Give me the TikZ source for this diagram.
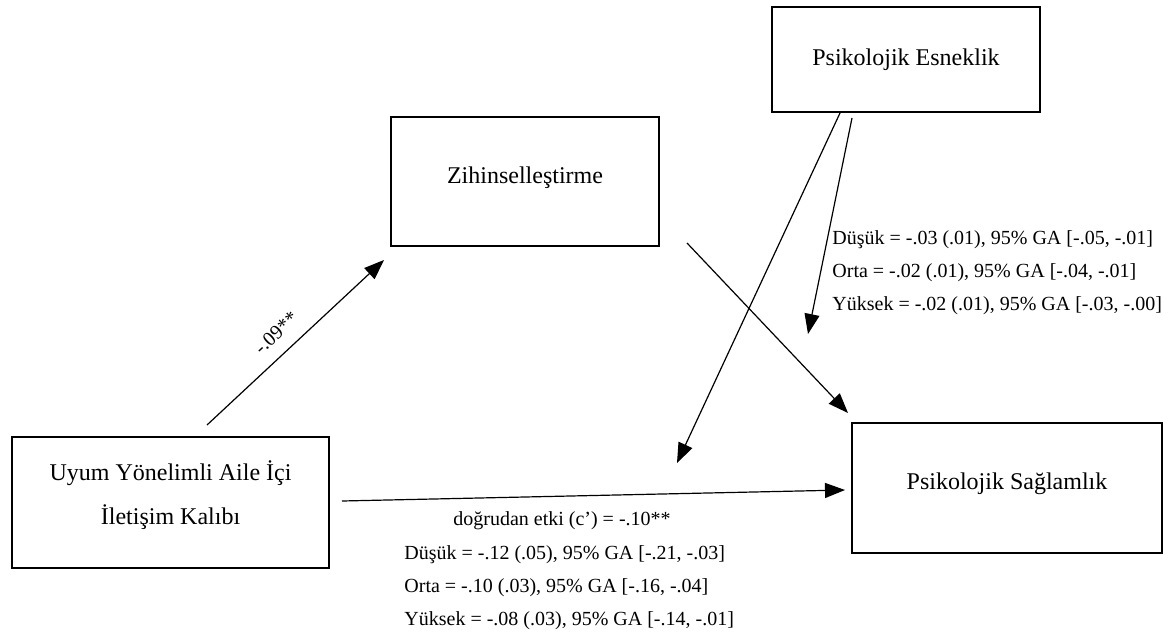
\documentclass[tikz,border=0pt]{standalone}
\usepackage{fontspec}
\setmainfont{Liberation Serif}
\usetikzlibrary{arrows.meta}
\begin{document}
\begin{tikzpicture}[x=0.5pt,y=-0.5pt,
  box/.style={draw,line width=1.3pt,rectangle,inner sep=0pt,align=center,font=\fontsize{12}{22}\selectfont},
  conn/.style={line width=0.6pt,-{Triangle[length=10pt,width=7.5pt]}},
  lbl/.style={font=\fontsize{10}{12}\selectfont,inner sep=0pt}]
\useasboundingbox (0,0) rectangle (1172,642);
% boxes
\node[box,minimum width=134pt,minimum height=52.5pt] (esn) at (906,59.5) {Psikolojik Esneklik};
\node[box,minimum width=134pt,minimum height=64.5pt,text depth=6.5pt] (zih) at (525,181.5) {Zihinselleştirme};
\node[box,minimum width=158.5pt,minimum height=65.5pt,text depth=10pt] (uyum) at (170.5,502.5) {Uyum Yönelimli Aile İçi\\İletişim Kalıbı};
\node[box,minimum width=155pt,minimum height=65pt,text depth=6.5pt] (sag) at (1007,488) {Psikolojik Sağlamlık};
% connector end points
\coordinate (a1s) at (207,425);
\coordinate (a1e) at (384,260);
\coordinate (a2s) at (687,243);
\coordinate (a2e) at (848,413);
\coordinate (a3s) at (840,113);
\coordinate (a3e) at (677,463);
\coordinate (a4s) at (852,118);
\coordinate (a4e) at (808,334);
\coordinate (a5s) at (342,501);
\coordinate (a5e) at (845,490);
% connectors
\draw[conn] (a1s) -- (a1e);
\draw[conn] (a2s) -- (a2e);
\draw[conn] (a3s) -- (a3e);
\draw[conn] (a4s) -- (a4e);
\draw[conn] (a5s) -- (a5e);
% labels
\node[lbl,rotate=43] (l1) at (276,333) {-.09**};
\node[lbl,anchor=west] (r1) at (832,240) {Düşük = -.03 (.01), 95\% GA [-.05, -.01]};
\node[lbl,anchor=west] (r2) at (832,273) {Orta = -.02 (.01), 95\% GA [-.04, -.01]};
\node[lbl,anchor=west] (r3) at (832,306) {Yüksek = -.02 (.01), 95\% GA [-.03, -.00]};
\node[lbl] (d0) at (562,521) {doğrudan etki (c’) = -.10**};
\node[lbl,anchor=west] (d1) at (404,555) {Düşük = -.12 (.05), 95\% GA [-.21, -.03]};
\node[lbl,anchor=west] (d2) at (404,588) {Orta = -.10 (.03), 95\% GA [-.16, -.04]};
\node[lbl,anchor=west] (d3) at (404,621) {Yüksek = -.08 (.03), 95\% GA [-.14, -.01]};
\end{tikzpicture}
\end{document}
